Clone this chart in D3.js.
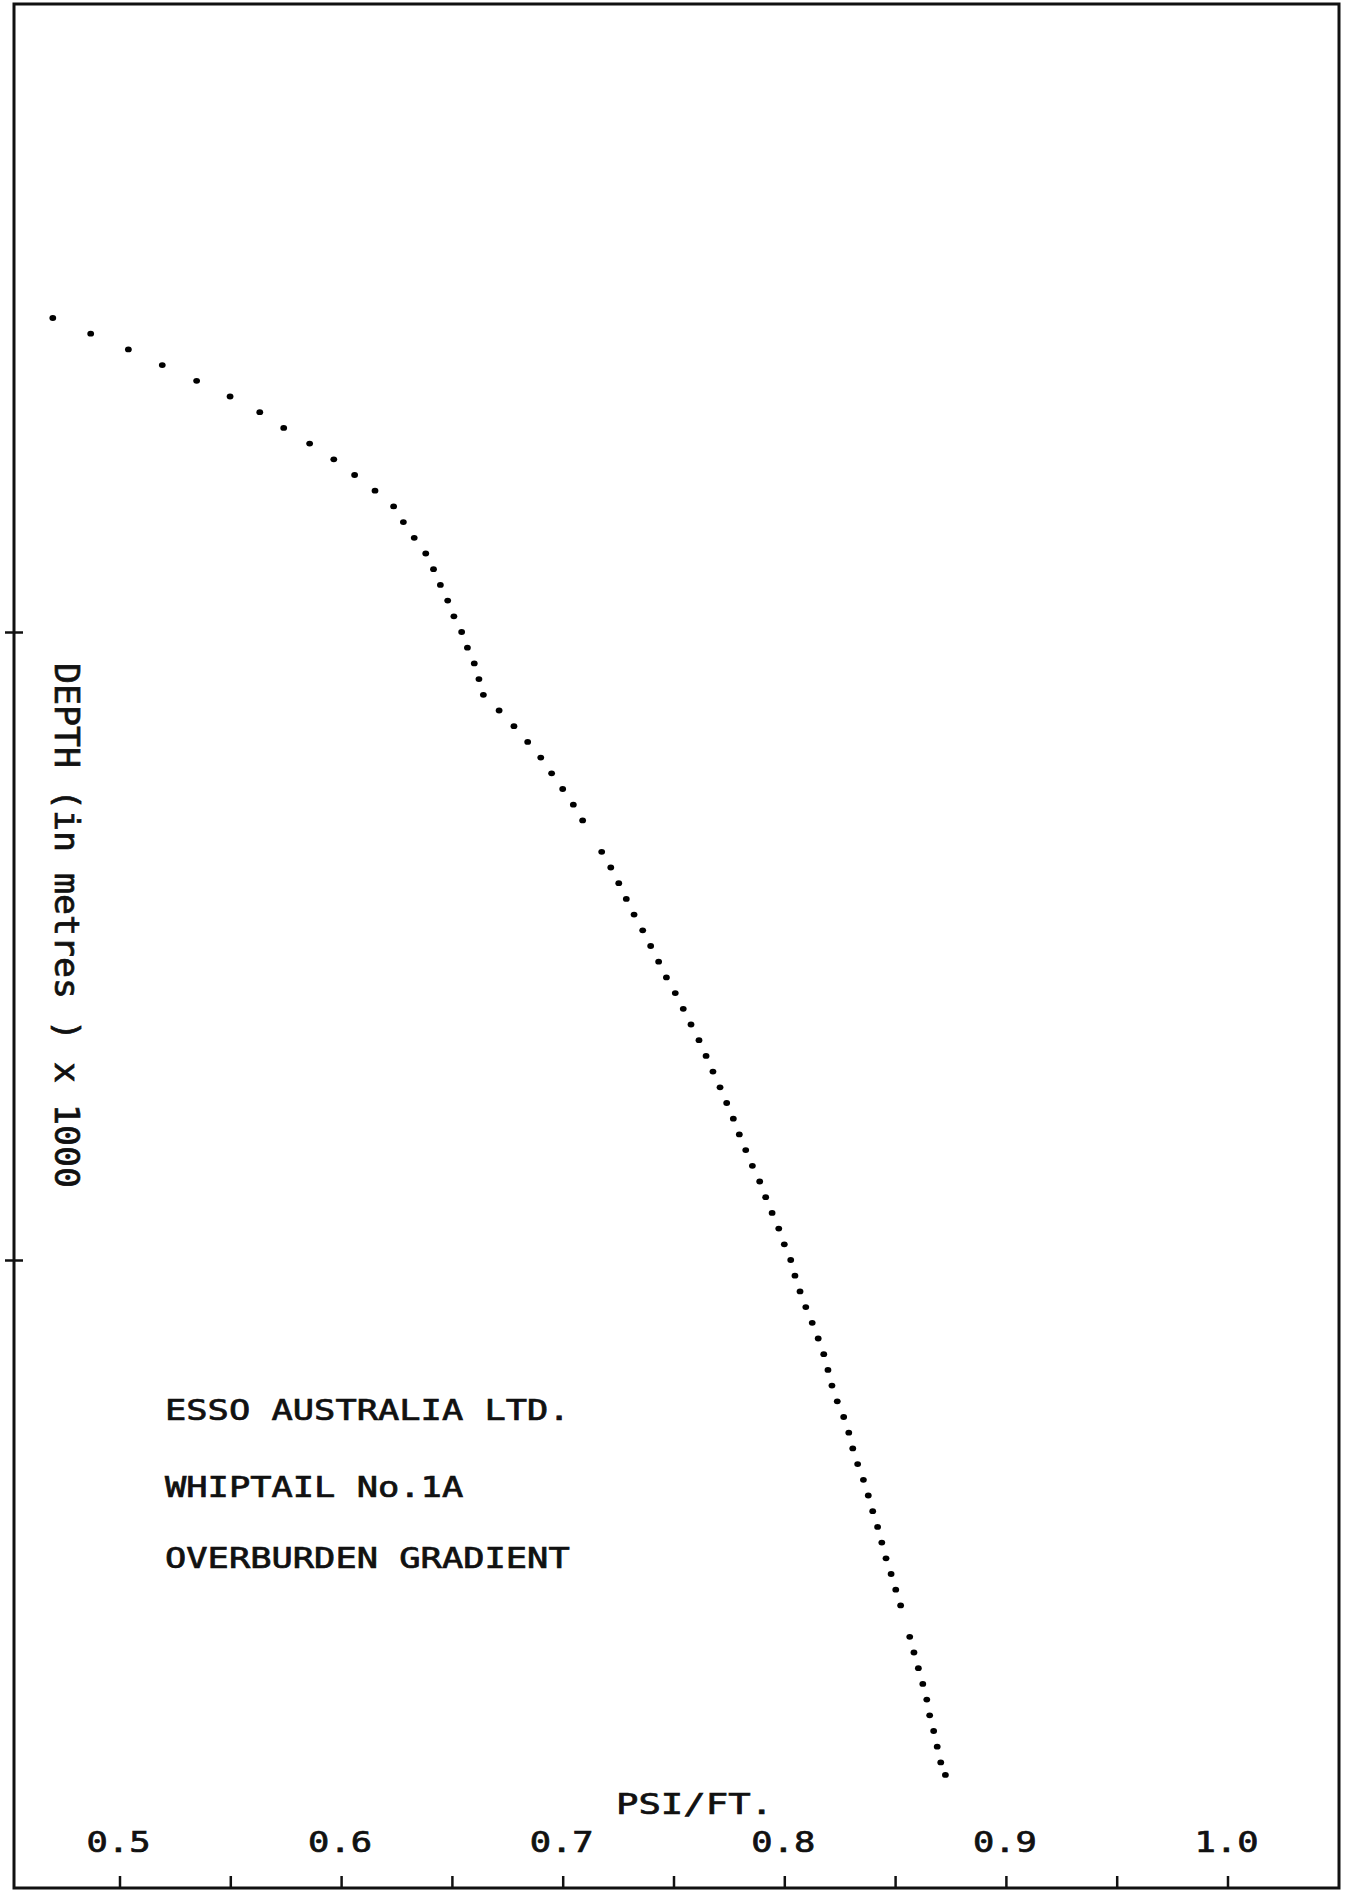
<!DOCTYPE html>
<html><head><meta charset="utf-8">
<script src="https://cdn.jsdelivr.net/npm/d3@7/dist/d3.min.js"></script>
<style>html,body{margin:0;padding:0;background:#fff;} svg{display:block;}</style>
</head><body>
<script>
// ---- data ----
const depthsM = [500,525,550,575,600,625,650,675,700,725,750,775,800,825,850,875,900,925,950,975,
  1000,1025,1050,1075,1100,1125,1150,1175,1200,1225,1250,1275,1300,1350,1375,1400,1425,1450,1475,
  1500,1525,1550,1575,1600,1625,1650,1675,1700,1725,1750,1775,1800,1825,1850,1875,1900,1925,1950,
  1975,2000,2025,2050,2075,2100,2125,2150,2175,2200,2225,2250,2275,2300,2325,2350,2375,2400,2425,
  2450,2475,2500,2525,2550,2600,2625,2650,2675,2700,2725,2750,2775,2800,2820];
const gradientPsiFt = [0.4699,0.4870,0.5040,0.5193,0.5348,0.5499,0.5633,0.5741,0.5858,0.5967,
  0.6061,0.6153,0.6237,0.6281,0.6330,0.6382,0.6417,0.6448,0.6481,0.6509,
  0.6544,0.6570,0.6601,0.6622,0.6642,0.6713,0.6780,0.6842,0.6901,0.6950,0.7000,0.7048,0.7090,
  0.7176,0.7217,0.7253,0.7287,0.7322,0.7361,
  0.7397,0.7433,0.7468,0.7508,0.7544,0.7579,0.7615,0.7647,0.7678,0.7710,0.7740,0.7770,0.7797,0.7826,0.7856,0.7889,0.7916,0.7945,
  0.7975,0.8000,0.8029,0.8048,0.8071,0.8097,0.8126,0.8153,0.8178,0.8197,0.8215,0.8239,0.8268,0.8291,0.8309,0.8331,0.8357,0.8379,0.8399,
  0.8421,0.8440,0.8459,0.8482,0.8503,0.8525,0.8566,0.8585,0.8605,0.8625,0.8643,0.8656,0.8674,0.8690,0.8706,0.8727];
const xTickValues = [0.5,0.55,0.6,0.65,0.7,0.75,0.8,0.85,0.9,0.95,1.0];
const xLabelValues = [0.5,0.6,0.7,0.8,0.9,1.0];
const yTickValues = [1000,2000];
const xAxisTitle = "PSI/FT.";
const yAxisTitle = "DEPTH (in metres ) x 1000";
const noteLines = ["ESSO AUSTRALIA LTD.","WHIPTAIL No.1A","OVERBURDEN GRADIENT"];

// ---- layout ----
const W = 1345, H = 1891;
const frame = {left:14, right:1339, top:4, bottom:1888};
const FONT = "'DejaVu Sans Mono', monospace";
const INK = "#111";

const x = d3.scaleLinear().domain([0.5, 1.0]).range([119.5, 1227.5]);
const y = d3.scaleLinear().domain([0, 3000]).range([4, 1888]);

const svg = d3.select("body").append("svg").attr("width", W).attr("height", H);
svg.append("rect").attr("width", W).attr("height", H).attr("fill", "#fff");

function styleText(sel, size) {
  return sel.attr("font-family", FONT).attr("font-size", size)
    .attr("fill", INK).attr("stroke", INK).attr("stroke-width", 0.7)
    .attr("lengthAdjust", "spacingAndGlyphs");
}

// frame
svg.append("rect")
  .attr("x", frame.left).attr("y", frame.top)
  .attr("width", frame.right - frame.left).attr("height", frame.bottom - frame.top)
  .attr("fill", "none").attr("stroke", INK).attr("stroke-width", 3);

// bottom ticks (inside)
const gx = svg.append("g").attr("transform", `translate(0,${frame.bottom})`)
  .call(d3.axisBottom(x).tickValues(xTickValues).tickSize(-12).tickFormat(""));
gx.select(".domain").remove();
gx.selectAll(".tick line").attr("stroke", INK).attr("stroke-width", 2.5);

// left ticks (cross the frame)
const gy = svg.append("g").attr("transform", `translate(${frame.left},0)`)
  .call(d3.axisLeft(y).tickValues(yTickValues).tickSize(9).tickFormat(""));
gy.select(".domain").remove();
gy.selectAll(".tick line").attr("x1", 9).attr("stroke", INK).attr("stroke-width", 2.5);

// x tick labels
styleText(svg.append("g").selectAll("text").data(xLabelValues).join("text")
  .attr("x", d => x(d) - 1).attr("y", 1852)
  .attr("text-anchor", "middle")
  .attr("textLength", 64)
  .text(d => d.toFixed(1)), 27.5);

// x axis title
styleText(svg.append("text").attr("x", 616).attr("y", 1814)
  .attr("textLength", 157)
  .text(xAxisTitle), 28);

// y axis title (rotated, reading top to bottom)
styleText(svg.append("text").attr("transform", "translate(55,663) rotate(90)")
  .attr("textLength", yAxisTitle.length * 21)
  .text(yAxisTitle), 33);

// note block
const noteBase = [1420, 1497, 1568];
styleText(svg.append("g").selectAll("text").data(noteLines).join("text")
  .attr("x", 165).attr("y", (d, i) => noteBase[i])
  .attr("textLength", d => d.length * 21.3)
  .text(d => d), 27.5);

// data points
const pts = depthsM.map((d, i) => ({depth: d, g: gradientPsiFt[i]}));
svg.append("g").selectAll("ellipse").data(pts).join("ellipse")
  .attr("cx", d => x(d.g)).attr("cy", d => y(d.depth))
  .attr("rx", 3.4).attr("ry", 2.9).attr("fill", "#000");
</script>
</body></html>
